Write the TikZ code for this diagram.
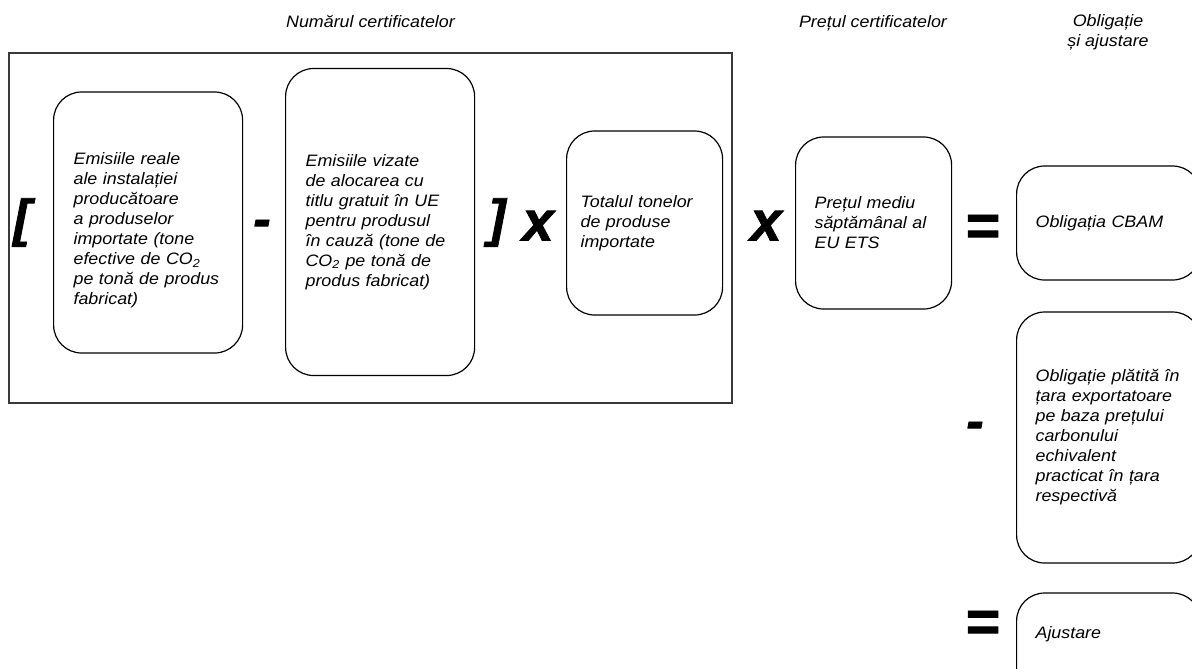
\documentclass[tikz,border=0pt]{standalone}
\usepackage{fontspec}
\setmainfont{Liberation Sans}[FakeStretch=1.08]
\newfontfamily\opfont{Liberation Sans}[FakeBold=1.6]
\definecolor{framegray}{HTML}{3A3A3A}
\tikzset{
  lbl/.style={font=\fontsize{12.4pt}{15pt}\selectfont\itshape, inner sep=0pt},
  rbox/.style={draw=black, line width=0.9pt, rounded corners=21pt,
    font=\fontsize{12.4pt}{15pt}\selectfont\itshape, align=left,
    inner ysep=0pt, anchor=west},
  opsym/.style={font=\opfont\fontsize{39pt}{39pt}\selectfont\bfseries\itshape,
    inner sep=0pt, anchor=base},
  opx/.style={opsym, font=\opfont\fontsize{42pt}{42pt}\selectfont\bfseries\itshape},
  opeq/.style={opsym, font=\opfont\fontsize{44pt}{44pt}\selectfont\bfseries\itshape},
  framebox/.style={draw=framegray, line width=1.2pt, inner sep=0pt}
}
\begin{document}
\begin{tikzpicture}[x=0.75pt, y=-0.75pt]
\useasboundingbox (0,0) rectangle (1192,668);
\clip (0,0) rectangle (1192,668);

% headers
\node[lbl, anchor=base] (h1) at (370.5,27) {Numărul certificatelor};
\node[lbl, anchor=base] (h2) at (873,27) {Prețul certificatelor};
\node[lbl, align=center, anchor=north] (h3) at (1108,14) {Obligație\\și ajustare};

% outer frame
\node[framebox, minimum width=542.25pt, minimum height=262.5pt] (frame) at (370.5,228) {};

% boxes
\node[rbox, inner xsep=15pt, text width=111.75pt, minimum height=195.75pt] (b1) at (53,222.5)
  {\rule{0pt}{21pt}Emisiile reale\\ale instalației\\producătoare\\a produselor\\importate (tone\\efective de CO\textsubscript{2}\\pe tonă de produs\\fabricat)};
\node[rbox, inner xsep=15pt, text width=111.75pt, minimum height=230.25pt] (b2) at (285,222)
  {Emisiile vizate\\de alocarea cu\\titlu gratuit în UE\\pentru produsul\\în cauză (tone de\\CO\textsubscript{2} pe tonă de\\produs fabricat)};
\node[rbox, inner xsep=10.5pt, text width=96pt, minimum height=138pt] (b3) at (566,223)
  {Totalul tonelor\\de produse\\importate};
\node[rbox, inner xsep=14.25pt, text width=88.5pt, minimum height=129pt] (b4) at (795,223)
  {Prețul mediu\\săptămânal al\\EU ETS};
\node[rbox, inner xsep=14.25pt, text width=109.5pt, minimum height=85.5pt] (b5) at (1016,223)
  {Obligația CBAM};
\node[rbox, inner xsep=14.25pt, text width=109.5pt, minimum height=188.25pt] (b6) at (1016,437.5)
  {Obligație plătită în\\țara exportatoare\\pe baza prețului\\carbonului\\echivalent\\practicat în țara\\respectivă};
\node[rbox, inner xsep=14.25pt, text width=109.5pt, minimum height=80.25pt] (b7) at (1016,646.5)
  {Ajustare\rule[-21pt]{0pt}{1pt}};

% operators
\node[opsym] (oL) at (22,236) {[};
\node[opsym] (oM1) at (262,236.5) {-};
\node[opsym] (oR) at (497,236) {]};
\node[opx] (oX1) at (538,240.5) {x};
\node[opx] (oX2) at (766,240.5) {x};
\node[opeq] (oE1) at (982,245.5) {=};
\node[opsym] (oM2) at (975,438.5) {-};
\node[opeq] (oE2) at (982,641.5) {=};
\end{tikzpicture}
\end{document}
